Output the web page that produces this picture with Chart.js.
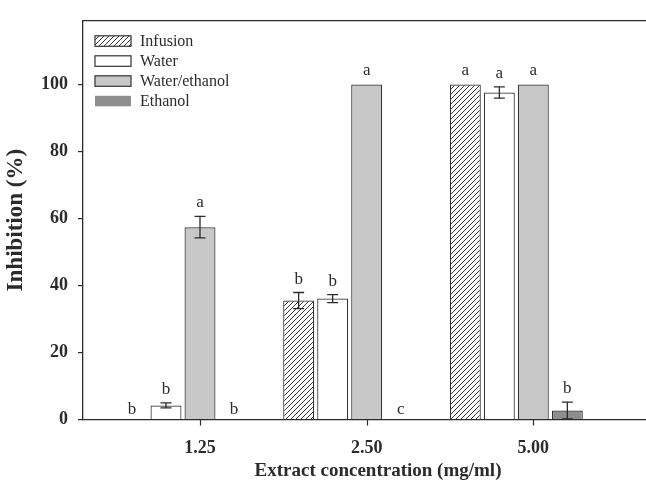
<!DOCTYPE html>
<html>
<head>
<meta charset="utf-8">
<script src="https://cdn.jsdelivr.net/npm/chart.js@4.4.0/dist/chart.umd.min.js"></script>
<style>
body { margin: 0; background: #fff; overflow: hidden; }
#wrap { width: 680px; height: 481px; }
</style>
</head>
<body>
<div id="wrap"><canvas id="myChart"></canvas></div>
<script>
// Extract concentrations (mg/ml) and y ticks
const concLabels = ['1.25', '2.50', '5.00'];
const concPos = [1, 2, 3];
const yTicks = [0, 20, 40, 60, 80, 100];

// Inhibition (%) for each extract
const infusion = [0, 35.5, 100];
const water = [4.2, 36.1, 97.6];
const waterEthanol = [57.4, 100, 100];
const ethanol = [0, 0, 2.7];

// Error bars (+/-)
const infusionErr = [0, 2.4, 0];
const waterErr = [0.75, 1.2, 1.7];
const waterEthanolErr = [3.2, 0, 0];
const ethanolErr = [0, 0, 2.5];

// Letters above bars
const infusionLetters = ['b', 'b', 'a'];
const waterLetters = ['b', 'b', 'a'];
const waterEthanolLetters = ['a', 'a', 'a'];
const ethanolLetters = ['b', 'c', 'b'];

const catPct = 0.816;
const barPct = 0.91;
// SigmaPlot puts the tick under the third bar of each group
const tickShift = catPct / 4 * 0.5;

const serif = 'Liberation Serif';
const ink = '#2b2b2b';

function hatch() {
    const c = document.createElement('canvas');
    c.width = 5; c.height = 5;
    const g = c.getContext('2d');
    g.fillStyle = '#fff';
    g.fillRect(0, 0, 5, 5);
    g.strokeStyle = '#222';
    g.lineWidth = 0.9;
    g.beginPath();
    g.moveTo(-1, 6); g.lineTo(6, -1);
    g.moveTo(-1, 1); g.lineTo(1, -1);
    g.moveTo(4, 6); g.lineTo(6, 4);
    g.stroke();
    return g.createPattern(c, 'repeat');
}

function pts(vals) {
    return concPos.map((x, i) => ({ x: x, y: vals[i] }));
}

const datasets = [
    { label: 'Infusion', data: pts(infusion), err: infusionErr, letters: infusionLetters, backgroundColor: hatch(), borderColor: '#333', legendBorder: true },
    { label: 'Water', data: pts(water), err: waterErr, letters: waterLetters, backgroundColor: '#ffffff', borderColor: '#333', legendBorder: true },
    { label: 'Water/ethanol', data: pts(waterEthanol), err: waterEthanolErr, letters: waterEthanolLetters, backgroundColor: '#c8c8c8', borderColor: '#333', legendBorder: true },
    { label: 'Ethanol', data: pts(ethanol), err: ethanolErr, letters: ethanolLetters, backgroundColor: '#8e8e8e', borderColor: '#333', legendBorder: false }
];
datasets.forEach(d => {
    d.borderWidth = 1.2;
    d.categoryPercentage = catPct;
    d.barPercentage = barPct;
});

// error bars, letters and the x tick marks
const marksPlugin = {
    id: 'marks',
    afterDatasetsDraw(chart) {
        const ctx = chart.ctx;
        const y = chart.scales.y;
        const x = chart.scales.x;
        ctx.save();
        // tick marks under the x axis
        ctx.strokeStyle = ink;
        ctx.lineWidth = 1.2;
        ctx.beginPath();
        x.ticks.forEach(t => {
            const px = Math.round(x.getPixelForValue(t.value)) + 0.5;
            ctx.moveTo(px, x.top);
            ctx.lineTo(px, x.top + 6);
        });
        ctx.stroke();

        chart.data.datasets.forEach((ds, i) => {
            const meta = chart.getDatasetMeta(i);
            meta.data.forEach((bar, j) => {
                const v = ds.data[j].y;
                const e = ds.err[j];
                let top = bar.y;
                if (e > 0) {
                    const yTop = y.getPixelForValue(v + e);
                    const yBot = y.getPixelForValue(Math.max(0, v - e));
                    ctx.strokeStyle = ink;
                    ctx.lineWidth = 1.3;
                    ctx.beginPath();
                    ctx.moveTo(bar.x, yTop); ctx.lineTo(bar.x, yBot);
                    ctx.moveTo(bar.x - 5.5, yTop); ctx.lineTo(bar.x + 5.5, yTop);
                    ctx.moveTo(bar.x - 5.5, yBot); ctx.lineTo(bar.x + 5.5, yBot);
                    ctx.stroke();
                    top = Math.min(top, yTop);
                }
                ctx.fillStyle = ink;
                ctx.font = '17px "' + serif + '"';
                ctx.textAlign = 'center';
                ctx.textBaseline = 'alphabetic';
                ctx.fillText(ds.letters[j], bar.x, top - (v === 0 ? 6 : 9));
            });
        });
        ctx.restore();
    }
};

// legend inside the plot area
const legendPlugin = {
    id: 'innerLegend',
    afterDraw(chart) {
        const ctx = chart.ctx;
        const a = chart.chartArea;
        ctx.save();
        chart.data.datasets.forEach((ds, i) => {
            const bx = a.left + 12;
            const by = a.top + 15 + i * 20;
            ctx.fillStyle = ds.backgroundColor;
            ctx.fillRect(bx, by, 36, 10.5);
            if (ds.legendBorder) {
                ctx.strokeStyle = '#333';
                ctx.lineWidth = 1.2;
                ctx.strokeRect(bx, by, 36, 10.5);
            }
            ctx.fillStyle = ink;
            ctx.font = '16px "' + serif + '"';
            ctx.textAlign = 'left';
            ctx.textBaseline = 'middle';
            ctx.fillText(ds.label, a.left + 57, by + 5.5);
        });
        ctx.restore();
    }
};

const ctx = document.getElementById('myChart').getContext('2d');

const myChart = new Chart(ctx, {
    type: 'bar',
    data: { datasets: datasets },
    plugins: [marksPlugin, legendPlugin],
    options: {
        responsive: true,
        maintainAspectRatio: false,
        animation: false,
        layout: { padding: { top: 12, right: 7, left: 0, bottom: 0 } },
        plugins: {
            legend: { display: false },
            tooltip: { enabled: false }
        },
        scales: {
            x: {
                type: 'linear',
                position: 'bottom',
                offset: false,
                min: 0.4,
                max: 3.94,
                afterBuildTicks: (s) => { s.ticks = concPos.map(p => ({ value: p + tickShift })); },
                afterFit: (s) => { s.height = 61.5; },
                ticks: {
                    color: ink,
                    padding: 10,
                    font: { family: serif, size: 18, weight: 'bold' },
                    callback: (v, i) => concLabels[i]
                },
                grid: { display: false },
                border: { color: ink, width: 1.3 },
                title: {
                    display: true,
                    text: 'Extract concentration (mg/ml)',
                    color: ink,
                    font: { family: serif, size: 19, weight: 'bold', lineHeight: 1 },
                    padding: { top: 0, bottom: 0 }
                }
            },
            xTop: {
                type: 'linear',
                position: 'top',
                offset: false,
                min: 0,
                max: 1,
                afterFit: (s) => { s.height = 0; },
                ticks: { display: false },
                grid: { display: false, drawTicks: false },
                border: { display: true, color: ink, width: 1.3 }
            },
            y: {
                min: 0,
                max: 119,
                afterBuildTicks: (s) => { s.ticks = yTicks.map(v => ({ value: v })); },
                afterFit: (s) => { s.width = 83; },
                ticks: {
                    color: ink,
                    padding: 10,
                    font: { family: serif, size: 18, weight: 'bold' }
                },
                grid: { drawOnChartArea: false, tickLength: 5, color: ink, lineWidth: 1.2 },
                border: { color: ink, width: 1.3 },
                title: {
                    display: true,
                    text: 'Inhibition (%)',
                    color: ink,
                    font: { family: serif, size: 23, weight: 'bold', lineHeight: 1 },
                    padding: { top: 5, bottom: 0 }
                }
            }
        }
    }
});
</script>
</body>
</html>
